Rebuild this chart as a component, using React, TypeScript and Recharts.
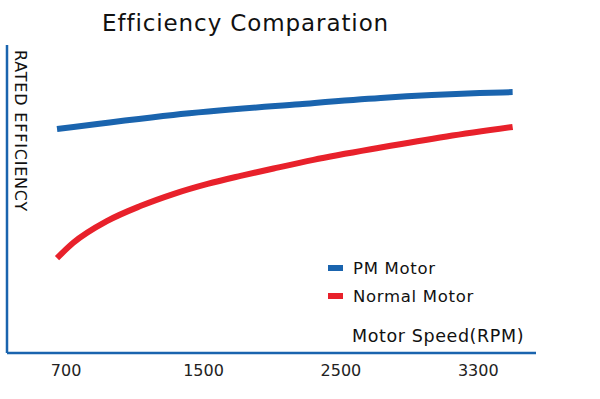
import { LineChart, Line, XAxis, YAxis } from "recharts";

// x values are positions along the (evenly spaced) speed axis: 0 = 700, 1 = 1500, 2 = 2500, 3 = 3300
const speedTicks = [0, 1, 2, 3];
const speedLabels = ["700", "1500", "2500", "3300"];

const pmX = [-0.066, 0.78, 1.7, 2.29, 3.01, 3.25];
const pmEff = [72.7, 77.3, 80.8, 82.8, 84.4, 84.7];

const normalX = [-0.066, 0.05, 0.3, 0.54, 0.78, 1.03, 1.27, 1.51, 1.8, 2.29, 2.77, 3.25];
const normalEff = [30.8, 35.7, 42.9, 47.7, 51.6, 54.9, 57.5, 59.9, 62.7, 66.7, 70.3, 73.4];

const pmData = pmX.map((x, i) => ({ x, y: pmEff[i] }));
const normalData = normalX.map((x, i) => ({ x, y: normalEff[i] }));

const BLUE = "#1a64ae";
const RED = "#e8212b";
const FONT = "'DejaVu Sans', sans-serif";

const legendItems = [
  { name: "PM Motor", color: BLUE },
  { name: "Normal Motor", color: RED },
];

export default function App() {
  return (
    <div style={{ position: "fixed", left: 0, top: 0, width: 600, height: 399, background: "#fff" }}>
      <div
        style={{
          position: "absolute",
          left: 102,
          top: 10,
          fontFamily: FONT,
          fontSize: 23,
          letterSpacing: 0.9,
          color: "#111",
        }}
      >
        Efficiency Comparation
      </div>
      <div
        style={{
          position: "absolute",
          left: 29,
          top: 50,
          transform: "rotate(90deg)",
          transformOrigin: "left top",
          whiteSpace: "nowrap",
          fontFamily: FONT,
          fontSize: 16,
          letterSpacing: 0.8,
          lineHeight: "18px",
          color: "#111",
        }}
      >
        RATED EFFICIENCY
      </div>
      <div
        style={{
          position: "absolute",
          left: 352,
          top: 326,
          fontFamily: FONT,
          fontSize: 17.5,
          letterSpacing: 0.6,
          color: "#111",
        }}
      >
        Motor Speed(RPM)
      </div>
      <div
        style={{
          position: "absolute",
          left: 328,
          top: 254,
          fontFamily: FONT,
          fontSize: 16.5,
          letterSpacing: 0.7,
          color: "#111",
        }}
      >
        {legendItems.map((it) => (
          <div key={it.name} style={{ display: "flex", alignItems: "center", height: 28 }}>
            <div style={{ width: 15, height: 6, background: it.color, marginRight: 10 }} />
            <span>{it.name}</span>
          </div>
        ))}
      </div>
      <LineChart width={600} height={399} margin={{ top: 45, right: 64, bottom: 0, left: 6 }}>
        <XAxis
          type="number"
          dataKey="x"
          domain={[-0.43, 3.42]}
          ticks={speedTicks}
          tickFormatter={(v: number) => speedLabels[v]}
          allowDataOverflow
          height={46}
          stroke={BLUE}
          strokeWidth={2.5}
          tickLine={false}
          tick={{ fill: "#222", fontSize: 16, fontFamily: FONT }}
          tickMargin={6}
        />
        <YAxis
          type="number"
          dataKey="y"
          domain={[0, 100]}
          width={1}
          tick={false}
          tickLine={false}
          stroke={BLUE}
          strokeWidth={2.5}
        />
        <Line
          data={pmData}
          dataKey="y"
          name="PM Motor"
          type="monotone"
          stroke={BLUE}
          strokeWidth={6}
          dot={false}
          isAnimationActive={false}
        />
        <Line
          data={normalData}
          dataKey="y"
          name="Normal Motor"
          type="monotone"
          stroke={RED}
          strokeWidth={6}
          dot={false}
          isAnimationActive={false}
        />
      </LineChart>
    </div>
  );
}
